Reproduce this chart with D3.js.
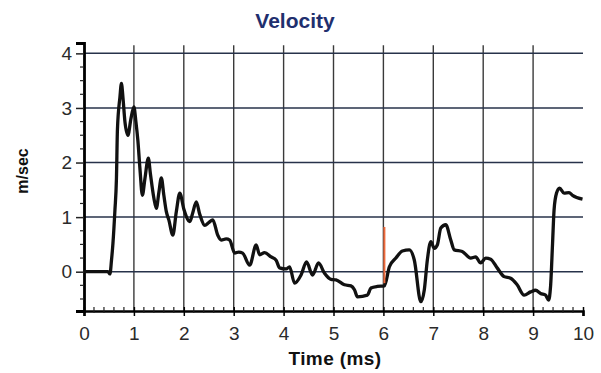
<!DOCTYPE html>
<html>
<head>
<meta charset="utf-8">
<script src="https://d3js.org/d3.v7.min.js"></script>
<style>
  body { margin: 0; background: #fff; }
  svg { display: block; }
  text { font-family: "Liberation Sans", Arial, sans-serif; }
</style>
</head>
<body>
<svg width="601" height="373"></svg>
<script>
// datos
var titulo = "Velocity";
var etiqueta_x = "Time (ms)";
var etiqueta_y = "m/sec";

var ticks_x = [0, 1, 2, 3, 4, 5, 6, 7, 8, 9, 10];
var ticks_y = [0, 1, 2, 3, 4];

var tiempo = [0, 0.2, 0.4, 0.48, 0.52, 0.55, 0.58, 0.62, 0.65, 0.67, 0.72, 0.75, 0.78, 0.82, 0.88, 0.94,
  1.0, 1.04, 1.08, 1.12, 1.17, 1.22, 1.29, 1.33, 1.4, 1.45, 1.5, 1.55, 1.6, 1.65, 1.7, 1.78, 1.85, 1.92,
  2.0, 2.12, 2.18, 2.25, 2.32, 2.42, 2.5, 2.58, 2.68, 2.75, 2.85, 2.92, 3.02, 3.1, 3.18, 3.32, 3.45,
  3.52, 3.62, 3.75, 3.85, 3.92, 4.05, 4.12, 4.22, 4.35, 4.46, 4.58, 4.7, 4.82, 4.95, 5.05, 5.22, 5.35,
  5.42, 5.48, 5.68, 5.75, 5.88, 6.02, 6.12, 6.25, 6.38, 6.52, 6.62, 6.75, 6.82, 6.88, 6.95, 7.02, 7.08,
  7.15, 7.25, 7.35, 7.42, 7.58, 7.75, 7.85, 7.95, 8.05, 8.15, 8.28, 8.42, 8.55, 8.68, 8.82, 8.95, 9.05,
  9.15, 9.25, 9.31, 9.35, 9.39, 9.42, 9.47, 9.53, 9.62, 9.72, 9.79, 9.99];

var velocidad = [0, 0, 0, 0, -0.04, 0.2, 0.52, 1.13, 1.7, 2.6, 3.2, 3.45, 3.2, 2.75, 2.5, 2.8,
  3.02, 2.75, 2.4, 1.9, 1.4, 1.7, 2.08, 1.8, 1.35, 1.16, 1.45, 1.72, 1.4, 1.1, 0.95, 0.67, 1.1, 1.44,
  1.15, 0.92, 1.08, 1.28, 1.05, 0.85, 0.9, 0.95, 0.67, 0.58, 0.6, 0.58, 0.34, 0.36, 0.34, 0.12, 0.49,
  0.31, 0.35, 0.27, 0.21, 0.07, 0.05, 0.09, -0.21, -0.06, 0.18, -0.06, 0.16, -0.03, -0.14, -0.15, -0.24, -0.26,
  -0.33, -0.46, -0.43, -0.3, -0.27, -0.26, 0.09, 0.25, 0.38, 0.4, 0.21, -0.55, -0.33, 0.21, 0.55, 0.43, 0.49,
  0.8, 0.86, 0.58, 0.4, 0.37, 0.25, 0.27, 0.16, 0.25, 0.23, 0.07, -0.09, -0.12, -0.24, -0.43, -0.37, -0.34,
  -0.4, -0.43, -0.52, -0.27, 0.52, 1.13, 1.44, 1.53, 1.44, 1.45, 1.4, 1.33];

// marca roja vertical
var marca_t = 6.02;
var marca_v = [-0.21, 0.82];

function dibujar_grafica(){

  var svg = d3.select("svg");

  var x = d3.scaleLinear().domain([0, 10]).range([84, 583]);
  var y = d3.scaleLinear().domain([-0.72, 4.19]).range([311, 43]);

  var datos = tiempo.map(function(t, i) { return {t: t, v: velocidad[i]}; });

  // rejilla vertical
  svg.append("g")
    .selectAll("line")
    .data(ticks_x.slice(1, -1))
    .enter().append("line")
    .attr("x1", function(d) { return x(d); })
    .attr("x2", function(d) { return x(d); })
    .attr("y1", y(4.15))
    .attr("y2", y(-0.72))
    .attr("stroke", "#3a3a3a")
    .attr("stroke-width", 1.4);

  // rejilla horizontal
  svg.append("g")
    .selectAll("line")
    .data(ticks_y)
    .enter().append("line")
    .attr("x1", x(0))
    .attr("x2", x(10))
    .attr("y1", function(d) { return y(d); })
    .attr("y2", function(d) { return y(d); })
    .attr("stroke", "#27324a")
    .attr("stroke-width", 1.5);

  // eje x
  var eje_x = svg.append("g")
    .attr("transform", "translate(0," + y(-0.72) + ")")
    .call(d3.axisBottom(x).tickValues(ticks_x).tickSize(5).tickPadding(11).tickFormat(d3.format("d")));
  eje_x.select(".domain").attr("stroke", "#000").attr("stroke-width", 2.6);
  eje_x.selectAll(".tick line").attr("stroke", "#000").attr("stroke-width", 1.5).attr("y1", -4);
  eje_x.selectAll(".tick text")
    .attr("fill", "#2a2a2a")
    .style("font-size", "19px");

  // ticks menores x
  svg.append("g")
    .selectAll("line")
    .data(d3.range(0, 10.01, 0.2).filter(function(d) { return Math.abs(d - Math.round(d)) > 0.01; }))
    .enter().append("line")
    .attr("x1", function(d) { return x(d); })
    .attr("x2", function(d) { return x(d); })
    .attr("y1", y(-0.72) - 4)
    .attr("y2", y(-0.72) + 2)
    .attr("stroke", "#222")
    .attr("stroke-width", 1.2);

  // eje y
  var eje_y = svg.append("g")
    .attr("transform", "translate(" + x(0) + ",0)")
    .call(d3.axisLeft(y).tickValues(ticks_y).tickSize(8).tickPadding(4).tickFormat(d3.format("d")));
  eje_y.select(".domain").attr("stroke", "#000").attr("stroke-width", 2.8);
  eje_y.selectAll(".tick line").attr("stroke", "#222").attr("stroke-width", 1.5);
  eje_y.selectAll(".tick text")
    .attr("fill", "#2a2a2a")
    .style("font-size", "19px");

  // ticks menores y
  svg.append("g")
    .selectAll("line")
    .data(d3.range(-0.5, 4.01, 0.25).filter(function(d) { return Math.abs(d - Math.round(d)) > 0.01; }))
    .enter().append("line")
    .attr("x1", x(0) - 4)
    .attr("x2", x(0))
    .attr("y1", function(d) { return y(d); })
    .attr("y2", function(d) { return y(d); })
    .attr("stroke", "#222")
    .attr("stroke-width", 1.2);

  // curva
  var linea = d3.line()
    .curve(d3.curveMonotoneX)
    .x(function(d) { return x(d.t); })
    .y(function(d) { return y(d.v); });

  svg.append("path")
    .datum(datos)
    .attr("fill", "none")
    .attr("stroke", "#111")
    .attr("stroke-width", 3.3)
    .attr("stroke-linejoin", "round")
    .attr("d", linea);

  // marca roja
  svg.append("line")
    .attr("x1", x(marca_t))
    .attr("x2", x(marca_t))
    .attr("y1", y(marca_v[0]))
    .attr("y2", y(marca_v[1]))
    .attr("stroke", "#ee6a3c")
    .attr("stroke-width", 2);

  // titulos
  svg.append("text")
    .attr("x", 295)
    .attr("y", 28)
    .attr("text-anchor", "middle")
    .attr("fill", "#1f2f6e")
    .style("font-size", "21px")
    .style("font-weight", "bold")
    .text(titulo);

  svg.append("text")
    .attr("x", 335)
    .attr("y", 365)
    .attr("text-anchor", "middle")
    .attr("fill", "#111")
    .style("font-size", "19px")
    .style("font-weight", "bold")
    .style("letter-spacing", "0.4px")
    .text(etiqueta_x);

  svg.append("text")
    .attr("transform", "translate(28,171) rotate(-90)")
    .attr("text-anchor", "middle")
    .attr("fill", "#111")
    .style("font-size", "16px")
    .style("font-weight", "bold")
    .text(etiqueta_y);
}

dibujar_grafica();
</script>
</body>
</html>
